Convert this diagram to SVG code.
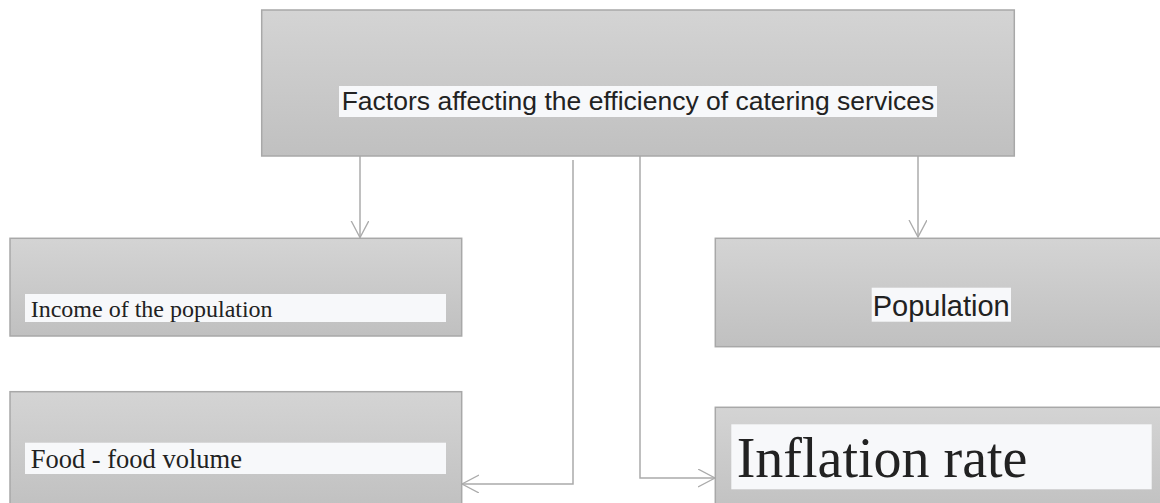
<svg xmlns="http://www.w3.org/2000/svg" width="1160" height="503" viewBox="0 0 1160 503">
<defs>
<linearGradient id="boxGrad" x1="0" y1="0" x2="0" y2="1">
<stop offset="0" stop-color="#d4d4d4"/>
<stop offset="1" stop-color="#c0c0c0"/>
</linearGradient>
<marker id="arrow" markerUnits="userSpaceOnUse" markerWidth="20" markerHeight="20" refX="17" refY="9" orient="auto">
<path d="M0,0 L17,9 L0,18" fill="none" stroke="#ababab" stroke-width="1.3"/>
</marker>
<style>
.box{fill:url(#boxGrad);stroke:#a8a8a8;stroke-width:1.5}
.lab{fill:#f7f8fa}
.sans{font-family:"Liberation Sans",Arial,sans-serif;fill:#222}
.serif{font-family:"Liberation Serif","Times New Roman",serif;fill:#222}
.conn{fill:none;stroke:#ababab;stroke-width:1.5}
</style>
</defs>
<rect width="1160" height="503" fill="#ffffff"/>
<g id="connectors">
<path class="conn" d="M360,156 V237.5" marker-end="url(#arrow)"/>
<path class="conn" d="M918,156 V237" marker-end="url(#arrow)"/>
<path class="conn" d="M573,160 V484 H462" marker-end="url(#arrow)"/>
<path class="conn" d="M640,156 V478 H715" marker-end="url(#arrow)"/>
</g>
<g id="node-main">
<rect class="box" x="261.7" y="10" width="752.6" height="146"/>
<rect class="lab" x="339" y="86" width="598" height="31"/>
<text class="sans" x="638" y="110" font-size="26.5" text-anchor="middle">Factors affecting the efficiency of catering services</text>
</g>
<g id="node-income">
<rect class="box" x="10" y="238.3" width="451.7" height="97.7"/>
<rect class="lab" x="25" y="294" width="421" height="28"/>
<text class="serif" x="30.7" y="316.7" font-size="24">Income of the population</text>
</g>
<g id="node-population">
<rect class="box" x="715.3" y="238.3" width="450" height="108.4"/>
<rect class="lab" x="871.7" y="287.7" width="139.3" height="34"/>
<text class="sans" x="872.7" y="315.7" font-size="29">Population</text>
</g>
<g id="node-food">
<rect class="box" x="10" y="391.7" width="451.7" height="120"/>
<rect class="lab" x="25" y="442.7" width="421" height="31.3"/>
<text class="serif" x="30.7" y="468" font-size="26.5">Food - food volume</text>
</g>
<g id="node-inflation">
<rect class="box" x="715.3" y="407.3" width="450" height="110"/>
<rect class="lab" x="731.3" y="424.3" width="420.4" height="65"/>
<text class="serif" x="736.7" y="477.3" font-size="56">Inflation rate</text>
</g>
</svg>
